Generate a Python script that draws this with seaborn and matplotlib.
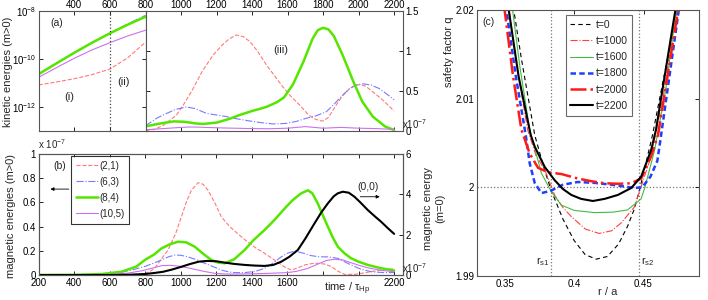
import matplotlib
matplotlib.use("Agg")
import numpy as np
import matplotlib.pyplot as plt
import seaborn as sns
from matplotlib.lines import Line2D

# (a) kinetic energies, linear growth phase: log10 of energy
t_early = [200, 300, 400, 500, 600, 700, 800]
ke21_early_exp = [-11.08, -10.96, -10.82, -10.65, -10.42, -9.95, -9.3]
ke63_early_exp = [-10.62, -10.17, -9.73, -9.31, -8.92, -8.54, -8.18]
ke84_early_exp = [-10.63, -10.18, -9.74, -9.32, -8.93, -8.57, -8.24]
ke105_early_exp = [-10.76, -10.36, -9.97, -9.62, -9.32, -9.04, -8.8]

# (a) kinetic energies, nonlinear phase (units of 1e-7)
t_ke21 = [800, 850, 900, 975, 1020, 1068, 1120, 1181, 1230, 1270, 1312, 1350, 1387, 1430, 1481, 1530,
          1574, 1620, 1668, 1710, 1743, 1780, 1800, 1830, 1874, 1910, 1949, 1980, 2010, 2040, 2080, 2140, 2200]
ke21 = [0.005, 0.02, 0.07, 0.2, 0.35, 0.53, 0.75, 0.95, 1.07, 1.15, 1.2, 1.18, 1.12, 1.0, 0.825, 0.68,
        0.55, 0.43, 0.325, 0.22, 0.16, 0.13, 0.125, 0.17, 0.325, 0.44, 0.53, 0.57, 0.58, 0.56, 0.49, 0.38, 0.25]
t_ke63 = [800, 863, 919, 970, 1030, 1080, 1144, 1200, 1256, 1320, 1387, 1450, 1518, 1593, 1650, 1706,
          1760, 1818, 1860, 1911, 1950, 1987, 2024, 2070, 2117, 2160, 2200]
ke63 = [0.065, 0.16, 0.22, 0.27, 0.30, 0.28, 0.22, 0.20, 0.18, 0.15, 0.125, 0.105, 0.088, 0.095, 0.12, 0.16,
        0.19, 0.24, 0.33, 0.45, 0.53, 0.575, 0.59, 0.575, 0.53, 0.46, 0.39]
t_ke84 = [800, 850, 900, 960, 1020, 1080, 1125, 1200, 1270, 1330, 1400, 1480, 1540, 1580, 1630, 1690,
          1740, 1770, 1800, 1830, 1860, 1910, 1970, 2020, 2080, 2150, 2200]
ke84 = [0.057, 0.08, 0.10, 0.12, 0.115, 0.095, 0.088, 0.105, 0.15, 0.2, 0.25, 0.30, 0.36, 0.42, 0.58, 0.87,
        1.15, 1.26, 1.29, 1.27, 1.19, 0.95, 0.62, 0.37, 0.18, 0.055, 0.012]
t_ke105 = [800, 900, 1000, 1050, 1100, 1200, 1300, 1400, 1500, 1600, 1650, 1700, 1750, 1800, 1850, 1900,
           2000, 2100, 2200]
ke105 = [0.016, 0.03, 0.045, 0.05, 0.048, 0.04, 0.035, 0.03, 0.028, 0.035, 0.045, 0.055, 0.045, 0.035,
         0.04, 0.045, 0.035, 0.03, 0.02]

# (b) magnetic energies (units of 1e-7)
t_me21 = [200, 600, 700, 797, 850, 928, 970, 1003, 1030, 1059, 1097, 1125, 1153, 1190, 1228, 1275, 1321,
          1370, 1415, 1470, 1527, 1580, 1621, 1660, 1696, 1740, 1771, 1810, 1846, 1880, 1921, 1980, 2040,
          2100, 2146, 2200]
me21 = [0, 0, 0.0, 0.01, 0.05, 0.207, 0.34, 0.48, 0.6, 0.70, 0.763, 0.75, 0.70, 0.60, 0.48, 0.40, 0.34,
        0.28, 0.23, 0.18, 0.124, 0.07, 0.041, 0.06, 0.083, 0.095, 0.097, 0.09, 0.07, 0.035, 0.005, 0.005,
        0.02, 0.035, 0.047, 0.05]
t_me63 = [200, 500, 640, 720, 797, 850, 891, 930, 966, 1000, 1040, 1090, 1134, 1180, 1228, 1270, 1303,
          1360, 1420, 1471, 1520, 1565, 1600, 1640, 1690, 1734, 1780, 1827, 1883, 1920, 1958, 2010, 2071,
          2140, 2200]
me63 = [0, 0.002, 0.015, 0.04, 0.07, 0.1, 0.124, 0.15, 0.165, 0.163, 0.15, 0.125, 0.097, 0.07, 0.041,
        0.025, 0.02, 0.02, 0.03, 0.055, 0.1, 0.15, 0.18, 0.198, 0.18, 0.16, 0.15, 0.15, 0.138, 0.11, 0.083,
        0.05, 0.027, 0.02, 0.02]
t_me84 = [200, 400, 554, 666, 750, 797, 850, 891, 940, 984, 1030, 1078, 1130, 1172, 1210, 1247, 1300,
          1359, 1410, 1471, 1530, 1584, 1630, 1677, 1715, 1740, 1771, 1800, 1827, 1855, 1883, 1920, 1958,
          2000, 2052, 2120, 2183, 2200]
me84 = [0, 0.001, 0.008, 0.027, 0.07, 0.124, 0.17, 0.22, 0.255, 0.275, 0.27, 0.234, 0.17, 0.124, 0.103,
        0.097, 0.13, 0.207, 0.29, 0.372, 0.46, 0.55, 0.62, 0.675, 0.70, 0.675, 0.59, 0.49, 0.40, 0.31,
        0.234, 0.18, 0.138, 0.11, 0.083, 0.058, 0.041, 0.038]
t_me105 = [200, 600, 700, 780, 835, 891, 940, 984, 1030, 1078, 1130, 1190, 1250, 1300, 1400, 1500, 1600,
           1650, 1715, 1770, 1820, 1865, 1910, 1950, 1996, 2050, 2120, 2200]
me105 = [0, 0.005, 0.015, 0.035, 0.055, 0.077, 0.08, 0.074, 0.062, 0.047, 0.03, 0.014, 0.008, 0.008, 0.01,
         0.014, 0.02, 0.03, 0.055, 0.09, 0.12, 0.13, 0.125, 0.105, 0.083, 0.06, 0.04, 0.027]
# (0,0) mode, right axis (units of 1e-7)
t_me00 = [200, 600, 700, 800, 850, 900, 950, 1000, 1050, 1100, 1150, 1200, 1250, 1300, 1359, 1410, 1471,
          1520, 1565, 1610, 1658, 1700, 1752, 1790, 1827, 1860, 1883, 1911, 1945, 1977, 2010, 2052, 2090,
          2127, 2160, 2200]
me00 = [0, 0, 0.01, 0.05, 0.1, 0.16, 0.27, 0.4, 0.54, 0.66, 0.7, 0.68, 0.61, 0.55, 0.5, 0.47, 0.45, 0.5,
        0.66, 0.9, 1.24, 1.8, 2.56, 3.1, 3.55, 3.9, 4.05, 4.13, 4.08, 3.88, 3.6, 3.22, 2.92, 2.64, 2.36, 2.04]

# (c) safety factor profiles
r_t0 = [0.3545, 0.362, 0.3716, 0.3786, 0.3836, 0.392, 0.400, 0.408, 0.416, 0.424, 0.432, 0.4385, 0.4435,
        0.4476, 0.4565, 0.466, 0.4765]
q_t0 = [2.022, 2.0145, 2.0059, 2.002, 1.9996, 1.9964, 1.9940, 1.9924, 1.9919, 1.9922, 1.9936, 1.9956,
        1.9976, 2.0, 2.0059, 2.0135, 2.022]
r_t1000 = [0.3515, 0.3585, 0.3665, 0.3725, 0.3788, 0.386, 0.392, 0.398, 0.408, 0.418, 0.427, 0.434,
           0.4435, 0.4483, 0.4555, 0.4645, 0.4755]
q_t1000 = [2.022, 2.0138, 2.0065, 2.0036, 2.002, 1.9991, 1.9977, 1.9967, 1.9953, 1.9948, 1.9951, 1.996,
           1.9978, 2.0001, 2.0035, 2.0105, 2.022]
r_t1600 = [0.354, 0.361, 0.368, 0.3764, 0.3836, 0.3908, 0.400, 0.4147, 0.428, 0.4385, 0.4483, 0.451,
           0.458, 0.466, 0.4745]
q_t1600 = [2.022, 2.0135, 2.0065, 2.0016, 1.9995, 1.998, 1.9974, 1.99715, 1.9972, 1.99745, 1.9987, 2.0,
           2.0042, 2.011, 2.021]
r_t1800 = [0.3507, 0.358, 0.3651, 0.368, 0.3716, 0.3764, 0.383, 0.392, 0.4025, 0.415, 0.4268, 0.4435,
           0.449, 0.455, 0.460, 0.4627, 0.4759]
q_t1800 = [2.0205, 2.0125, 2.0059, 2.0027, 2.0005, 1.99935, 1.9996, 2.0003, 2.0006, 2.0005, 2.0003,
           1.99993, 2.0, 2.0012, 2.003, 2.0059, 2.0205]
r_t2000 = [0.3495, 0.356, 0.362, 0.368, 0.374, 0.3812, 0.3908, 0.4025, 0.412, 0.422, 0.432, 0.4412, 0.4483,
           0.4555, 0.4605, 0.4755]
q_t2000 = [2.0205, 2.0125, 2.0065, 2.0038, 2.0022, 2.0017, 2.0015, 2.001, 2.0007, 2.00046, 2.0004,
           2.00046, 2.001, 2.0035, 2.0059, 2.0205]
r_t2200 = [0.3524, 0.360, 0.3687, 0.3716, 0.3788, 0.386, 0.392, 0.398, 0.405, 0.4135, 0.422, 0.4315,
           0.4412, 0.4483, 0.4555, 0.459, 0.4735]
q_t2200 = [2.0205, 2.0125, 2.0059, 2.0046, 2.0023, 2.0008, 1.9998, 1.99914, 1.9987, 1.99846, 1.9987,
           1.99914, 1.99993, 2.0012, 2.0042, 2.0065, 2.0205]
r_s1, r_s2 = 0.3836, 0.4471

sns.set_style("white")
plt.rcParams['font.family'] = ['Liberation Sans', 'DejaVu Sans']
plt.rcParams['mathtext.fontset'] = 'custom'
plt.rcParams['mathtext.rm'] = 'Liberation Sans'
plt.rcParams['mathtext.it'] = 'Liberation Sans'
plt.rcParams['font.size'] = 7
plt.rcParams['axes.unicode_minus'] = False

c21, c63, c84, c105 = '#ff7a7a', '#7a7aff', '#55e600', '#cc70f0'
spine_col = '#555555'
W, H = 708, 300


def box(x0, y0, x1, y1):
    return [x0 / W, 1 - y1 / H, (x1 - x0) / W, (y1 - y0) / H]


def style_ax(ax):
    for s in ax.spines.values():
        s.set_color(spine_col)
        s.set_linewidth(0.8)
    ax.tick_params(direction='in', length=3, width=0.6, colors='k', labelsize=7, pad=2)
    for t in ax.yaxis.get_ticklines() + ax.xaxis.get_ticklines():
        t.set_color(spine_col)


fig = plt.figure(figsize=(7.08, 3.0), dpi=100)
kw = dict(legend=False)

# ---------------- (a) left: log scale
ax_al = fig.add_axes(box(38.7, 11, 145.5, 131))
sns.lineplot(x=t_early, y=10 ** np.array(ke21_early_exp), ax=ax_al, color=c21, lw=0.8, linestyle='--', **kw)
sns.lineplot(x=t_early, y=10 ** np.array(ke63_early_exp), ax=ax_al, color=c63, lw=0.8, linestyle='-.', **kw)
sns.lineplot(x=t_early, y=10 ** np.array(ke84_early_exp), ax=ax_al, color=c84, lw=1.8, **kw)
sns.lineplot(x=t_early, y=10 ** np.array(ke105_early_exp), ax=ax_al, color=c105, lw=0.8, **kw)
ax_al.set_yscale('log')
ax_al.set_xlim(200, 800)
ax_al.set_ylim(1e-13, 1e-8)
ax_al.set_yticks([1e-12, 1e-10, 1e-8])
ax_al.minorticks_off()
ax_al.set_xticks([400, 600, 800])
ax_al.axvline(600, color='#444444', ls=':', lw=0.9)
style_ax(ax_al)
ax_al.tick_params(top=True, bottom=True, labeltop=True, labelbottom=False, right=True, left=True)
ax_al.tick_params(axis='x', pad=1)
ax_al.set_xlabel('')
ax_al.set_ylabel('')

# ---------------- (a) right: linear
ax_ar = fig.add_axes(box(145.5, 11, 403, 131))
sns.lineplot(x=t_ke21, y=ke21, ax=ax_ar, color=c21, lw=0.8, linestyle='--', **kw)
sns.lineplot(x=t_ke63, y=ke63, ax=ax_ar, color=c63, lw=0.8, linestyle='-.', **kw)
sns.lineplot(x=t_ke84, y=ke84, ax=ax_ar, color=c84, lw=1.8, **kw)
sns.lineplot(x=t_ke105, y=ke105, ax=ax_ar, color=c105, lw=0.8, **kw)
ax_ar.set_xlim(800, 2250)
ax_ar.set_ylim(0, 1.5)
ax_ar.set_xticks([1000, 1200, 1400, 1600, 1800, 2000, 2200])
ax_ar.set_yticks([0, 0.5, 1, 1.5])
ax_ar.set_yticklabels(['0', '0.5', '1', '1.5'])
style_ax(ax_ar)
ax_ar.tick_params(top=True, bottom=True, labeltop=True, labelbottom=False,
                  left=True, right=True, labelleft=False, labelright=True)
ax_ar.tick_params(axis='x', pad=1)
ax_ar.set_xlabel('')
ax_ar.set_ylabel('')

# ---------------- (b)
ax_b = fig.add_axes(box(38.7, 154, 403, 275))
sns.lineplot(x=t_me21, y=me21, ax=ax_b, color=c21, lw=0.8, linestyle='--', **kw)
sns.lineplot(x=t_me63, y=me63, ax=ax_b, color=c63, lw=0.8, linestyle='-.', **kw)
sns.lineplot(x=t_me84, y=me84, ax=ax_b, color=c84, lw=1.8, **kw)
sns.lineplot(x=t_me105, y=me105, ax=ax_b, color=c105, lw=0.8, **kw)
ax_b.set_xlim(200, 2250)
ax_b.set_ylim(0, 1)
ax_b.set_yticks([0, 0.2, 0.4, 0.6, 0.8, 1])
ax_b.set_yticklabels(['0', '0.2', '0.4', '0.6', '0.8', '1'])
xt = list(range(200, 2201, 200))
ax_b.set_xticks(xt)
ax_b.set_xticklabels(['' if v in (1800, 2000) else str(v) for v in xt])
style_ax(ax_b)
ax_b.tick_params(top=True, bottom=True, left=True, right=False)
ax_b.set_xlabel('')
ax_b.set_ylabel('')

ax_b2 = ax_b.twinx()
sns.lineplot(x=t_me00, y=me00, ax=ax_b2, color='k', lw=1.5, **kw)
ax_b2.set_ylim(0, 6)
ax_b2.set_yticks([0, 2, 4, 6])
style_ax(ax_b2)
ax_b2.tick_params(left=False, right=True, labelright=True)
ax_b2.set_ylabel('')
ax_b2.grid(False)

handles = [Line2D([], [], color=c21, lw=0.8, ls='--'),
           Line2D([], [], color=c63, lw=0.8, ls='-.'),
           Line2D([], [], color=c84, lw=1.8),
           Line2D([], [], color=c105, lw=0.8)]
leg = ax_b2.legend(handles, ['(2,1)', '(6,3)', '(8,4)', '(10,5)'], loc='upper left',
                   bbox_to_anchor=(0.09, 0.985), fontsize=7, frameon=True, fancybox=False,
                   handlelength=2.2, labelspacing=0.62, borderpad=0.5, handletextpad=0.15,
                   borderaxespad=0)
leg.get_frame().set_edgecolor('k')
leg.get_frame().set_linewidth(0.8)
ax_b.annotate('', xy=(250, 0.71), xytext=(385, 0.71),
              arrowprops=dict(arrowstyle='-|>', color='k', lw=0.6, mutation_scale=5))
ax_b2.annotate('', xy=(2135, 3.88), xytext=(1994, 3.88),
               arrowprops=dict(arrowstyle='-|>', color='k', lw=0.6, mutation_scale=5))
ax_b2.text(2053, 4.36, '(0,0)', ha='center', va='center', fontsize=7.5)
ax_b.text(0.04, 0.9, '(b)', transform=ax_b.transAxes, fontsize=7.5, va='center')

# ---------------- (c)
ax_c = fig.add_axes(box(477, 10, 699, 276))
ax_c.axhline(2, color='#777777', ls=':', lw=0.9, zorder=0)
ax_c.axvline(r_s1, color='#777777', ls=':', lw=0.9, zorder=0)
ax_c.axvline(r_s2, color='#777777', ls=':', lw=0.9, zorder=0)
sns.lineplot(x=r_t0, y=q_t0, ax=ax_c, color='k', lw=0.8, linestyle=(0, (4, 3)), label='t=0', **kw)
sns.lineplot(x=r_t1000, y=q_t1000, ax=ax_c, color='#ff4040', lw=0.8, linestyle='-.', label='t=1000', **kw)
sns.lineplot(x=r_t1600, y=q_t1600, ax=ax_c, color='#44bb44', lw=0.8, label='t=1600', **kw)
sns.lineplot(x=r_t1800, y=q_t1800, ax=ax_c, color='#1f3fff', lw=1.8, linestyle=(0, (2.2, 1.3)),
             label='t=1800', **kw)
sns.lineplot(x=r_t2000, y=q_t2000, ax=ax_c, color='#ff1a1a', lw=1.8, linestyle='-.', label='t=2000', **kw)
sns.lineplot(x=r_t2200, y=q_t2200, ax=ax_c, color='k', lw=1.5, label='t=2200', **kw)
ax_c.set_xlim(0.33, 0.49)
ax_c.set_ylim(1.99, 2.02)
ax_c.set_xticks([0.35, 0.4, 0.45])
ax_c.set_xticklabels(['0.35', '0.4', '0.45'])
ax_c.set_yticks([1.99, 2.0, 2.01, 2.02])
ax_c.set_yticklabels(['1.99', '2', '2.01', '2.02'])
style_ax(ax_c)
ax_c.tick_params(top=True, right=True)
ax_c.set_xlabel('')
ax_c.set_ylabel('')
legc = ax_c.legend(loc='upper left', bbox_to_anchor=(0.40, 0.981), fontsize=7.5, frameon=True,
                   fancybox=False, handlelength=2.2, labelspacing=0.6, borderpad=0.45,
                   handletextpad=0.2, borderaxespad=0)
legc.get_frame().set_edgecolor('#444444')
legc.get_frame().set_linewidth(0.8)
ax_c.text(0.024, 0.975, '(c)', transform=ax_c.transAxes, fontsize=7.5, va='top')
ax_c.text(r_s1 - 0.001, 1.9916, r'$\mathregular{r_{s1}}$', ha='right', va='center', fontsize=8)
ax_c.text(r_s2 + 0.001, 1.9916, r'$\mathregular{r_{s2}}$', ha='left', va='center', fontsize=8)

# ---------------- texts
fig.text(50 / W, 1 - 23 / H, '(a)', ha='left', va='center', fontsize=7.5)
fig.text(8 / W, 1 - 72 / H, 'kinetic energies (m>0)', rotation=90, ha='center', va='center', fontsize=8)
fig.text(11 / W, 1 - 216 / H, 'magnetic energies (m>0)', rotation=90, ha='center', va='center', fontsize=8)
fig.text(434 / W, 1 - 208 / H, 'magnetic energy\n(m=0)', rotation=90, ha='center', va='center',
         fontsize=8, multialignment='center')
fig.text(449 / W, 1 - 52 / H, 'safety factor q', rotation=90, ha='center', va='center', fontsize=8)
fig.text(608 / W, 1 - 292 / H, 'r / a', ha='center', va='center', fontsize=8)
fig.text(347 / W, 1 - 289 / H, r'time / $\mathregular{\tau_{Hp}}$', ha='center', va='center', fontsize=8)
fig.text(69 / W, 1 - 97 / H, '(i)', ha='center', va='center', fontsize=8)
fig.text(123 / W, 1 - 82 / H, '(ii)', ha='center', va='center', fontsize=8)
fig.text(281 / W, 1 - 50 / H, '(iii)', ha='center', va='center', fontsize=8)
fig.text(38 / W, 1 - 151 / H, r'x 10$^{\mathregular{-7}}$', ha='left', va='bottom', fontsize=7)
fig.text(402 / W, 1 - 275 / H, r'x10$^{\mathregular{-7}}$', ha='left', va='bottom', fontsize=7)
fig.text(402 / W, 1 - 131 / H, r'x10$^{\mathregular{-7}}$', ha='left', va='bottom', fontsize=7)

fig.savefig('out.png', dpi=100)
